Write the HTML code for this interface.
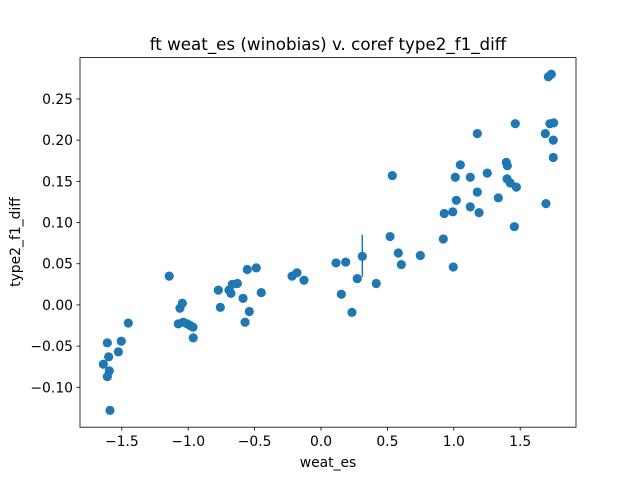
<!DOCTYPE html>
<html><head><meta charset="utf-8"><style>
body{margin:0;background:#fff;}
svg text{font-family:"DejaVu Sans","Liberation Sans",sans-serif;fill:#000;}
</style></head><body>
<svg id="chart" width="640" height="480" viewBox="0 0 640 480">
<rect width="640" height="480" fill="#fff"/>
<text x="328" y="50" font-size="16.7" text-anchor="middle">ft weat_es (winobias) v. coref type2_f1_diff</text>
<text x="328" y="467" font-size="13.9" text-anchor="middle">weat_es</text>
<text transform="translate(20,242) rotate(-90)" font-size="13.9" text-anchor="middle">type2_f1_diff</text>
<g id="marks"></g>
<g id="axes"></g>
</svg>
<script>
const xVals=[-1.639,-1.609,-1.599,-1.594,-1.609,-1.589,-1.526,-1.504,-1.451,-1.143,-1.075,-1.037,-1.007,-0.986,-0.964,-0.962,-1.062,-1.044,-0.773,-0.758,-0.693,-0.678,-0.668,-0.630,-0.587,-0.572,-0.540,-0.555,-0.487,-0.450,-0.218,-0.181,-0.128,0.113,0.186,0.153,0.233,0.273,0.311,0.416,0.520,0.537,0.582,0.605,0.748,0.921,0.996,0.928,0.992,1.019,1.177,1.124,1.190,1.011,1.049,1.124,1.252,1.177,1.335,1.456,1.395,1.403,1.401,1.425,1.471,1.463,1.694,1.689,1.749,1.749,1.724,1.752,1.712,1.734];
const yVals=[-0.072,-0.046,-0.063,-0.080,-0.087,-0.128,-0.057,-0.044,-0.022,0.035,-0.023,-0.021,-0.023,-0.025,-0.027,-0.040,-0.004,0.002,0.018,-0.003,0.018,0.014,0.025,0.026,0.008,-0.021,-0.008,0.043,0.045,0.015,0.035,0.039,0.030,0.051,0.052,0.013,-0.009,0.032,0.059,0.026,0.083,0.157,0.063,0.049,0.060,0.080,0.046,0.111,0.113,0.127,0.137,0.119,0.112,0.155,0.170,0.155,0.160,0.208,0.130,0.095,0.173,0.169,0.153,0.148,0.143,0.220,0.123,0.208,0.200,0.179,0.220,0.221,0.277,0.280];
const errX=[0.311];
const errLow=[0.034];
const errHigh=[0.085];
const xTicks=[-1.5,-1.0,-0.5,0.0,0.5,1.0,1.5];
const yTicks=[-0.10,-0.05,0.00,0.05,0.10,0.15,0.20,0.25];
const L=80,R=576,T=57.6,B=427.2;
const xMin=-1.8148,xMax=1.9202,yMin=-0.1484,yMax=0.3002;
const sx=v=>L+(v-xMin)/(xMax-xMin)*(R-L);
const sy=v=>B-(v-yMin)/(yMax-yMin)*(B-T);
const NS='http://www.w3.org/2000/svg';
const marks=document.getElementById('marks'),axes=document.getElementById('axes');
function mk(tag,attrs,parent){const e=document.createElementNS(NS,tag);for(const k in attrs)e.setAttribute(k,attrs[k]);parent.appendChild(e);return e;}
errX.forEach((x,i)=>{
 const l=mk('line',{x1:sx(x),x2:sx(x),y1:sy(errLow[i]),y2:sy(errHigh[i]),stroke:'#1f77b4','stroke-width':1.5},marks);
 
 
});
xVals.forEach((x,i)=>{
 const c=mk('circle',{cx:sx(x),cy:sy(yVals[i]),r:4.6,fill:'#1f77b4'},marks);
 
 
});
const fr=mk('rect',{x:L,y:T,width:R-L,height:B-T,fill:'none',stroke:'#000','stroke-width':0.8},axes);


xTicks.forEach(v=>{
 const x=sx(v);
 const t=mk('line',{x1:x,x2:x,y1:B,y2:B+3.5,stroke:'#000','stroke-width':0.8},axes);
 
 
 const tx=mk('text',{x:x,y:B+19,'font-size':13.9,'text-anchor':'middle'},axes);
 tx.textContent=(v<0?'\u2212':'')+Math.abs(v).toFixed(1);
 
 
});
yTicks.forEach(v=>{
 const y=sy(v);
 const t=mk('line',{x1:L-3.5,x2:L,y1:y,y2:y,stroke:'#000','stroke-width':0.8},axes);
 
 
 const tx=mk('text',{x:L-7,y:y+5,'font-size':13.9,'text-anchor':'end'},axes);
 tx.textContent=(v<0?'\u2212':'')+Math.abs(v).toFixed(2);
 
 
});
</script>
</body></html>
